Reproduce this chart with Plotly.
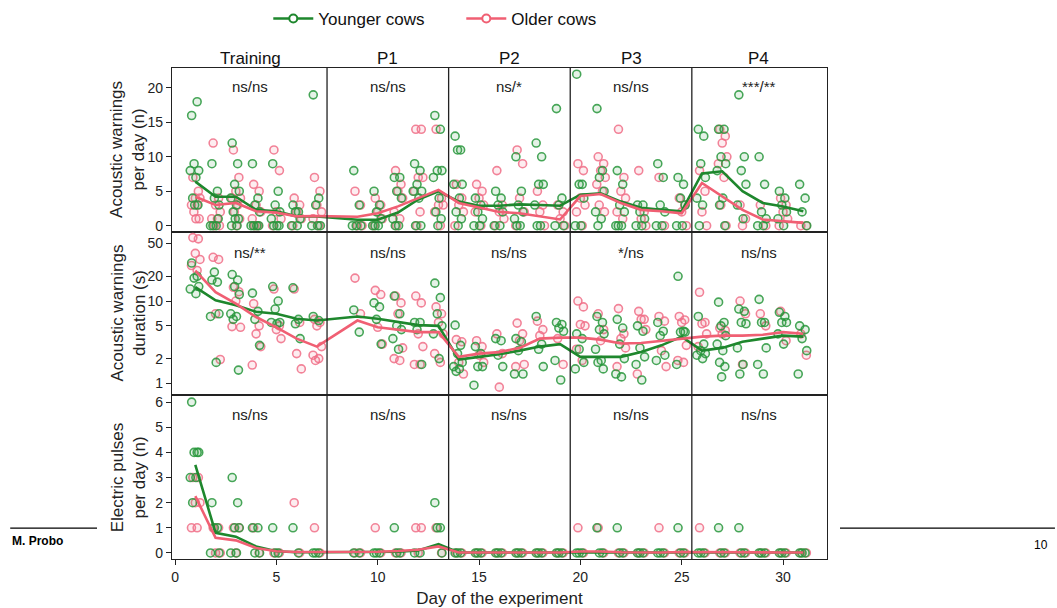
import plotly.graph_objects as go
from plotly.subplots import make_subplots

# ---------------- data ----------------
phases = ["Training", "P1", "P2", "P3", "P4"]
phase_centers = [3.7, 10.5, 16.5, 22.5, 28.8]
phase_bounds = [7.5, 13.5, 19.5, 25.5]

sig_top = ["ns/ns", "ns/ns", "ns/*", "ns/ns", "***/**"]
sig_mid = ["ns/**", "ns/ns", "ns/ns", "*/ns", "ns/ns"]
sig_bot = ["ns/ns", "ns/ns", "ns/ns", "ns/ns", "ns/ns"]

row_titles = ["Acoustic warnings<br>per day (n)", "Acoustic warnings<br>duration (s)",
              "Electric pulses<br>per day (n)"]

mean_days = [1, 2, 3, 4, 5, 6, 7, 9, 10, 11, 12, 13, 14, 15, 16, 17, 18, 19,
             20, 21, 22, 23, 24, 25, 26, 27, 28, 29, 30, 31]

# Acoustic warnings per day (n)
warn_n_young = {
    1: [16, 18, 9, 8, 8, 7, 4, 3, 3], 2: [9, 5, 4, 3, 0, 0, 0, 1],
    3: [12, 9, 6, 5, 4, 3, 2, 1, 1, 0, 0], 4: [9, 4, 3, 2, 0, 0, 0, 0],
    5: [9, 5, 3, 2, 1, 0, 0, 0], 6: [3, 2, 2, 1, 0, 0], 7: [19, 4, 3, 0, 0, 0],
    9: [8, 3, 0, 0, 0], 10: [5, 3, 2, 1, 0, 0, 0], 11: [7, 7, 5, 4, 1, 0, 0],
    12: [9, 8, 6, 5, 5, 4, 0, 0], 13: [16, 14, 8, 8, 7, 4, 2, 1, 0],
    14: [13, 11, 11, 6, 6, 4, 2, 1, 0], 15: [4, 3, 2, 1, 0, 0], 16: [5, 4, 3, 2, 0, 0],
    17: [10, 5, 3, 2, 1, 0, 0], 18: [12, 10, 6, 6, 3, 0, 0], 19: [17, 4, 3, 0, 0],
    20: [22, 6, 6, 4, 0, 0], 21: [17, 8, 7, 5, 2, 1, 0], 22: [8, 6, 3, 2, 0, 0, 0],
    23: [3, 3, 2, 1, 0, 0], 24: [9, 7, 3, 2, 0, 0], 25: [7, 6, 4, 3, 0, 0],
    26: [14, 13, 9, 7, 4, 3, 0], 27: [14, 14, 10, 9, 8, 4, 3, 0], 28: [19, 10, 8, 6, 3, 1],
    29: [10, 6, 2, 1, 0, 0], 30: [5, 4, 3, 2, 1, 0], 31: [6, 4, 2, 0],
}
warn_n_old = {
    1: [7, 5, 4, 4, 3, 3, 2, 1, 1], 2: [12, 4, 3, 2, 1, 1, 0, 0],
    3: [11, 7, 5, 4, 4, 3, 2, 1, 0], 4: [6, 5, 3, 2, 1, 0, 0], 5: [11, 8, 2, 1, 0],
    6: [4, 3, 2, 1, 0], 7: [7, 5, 3, 2, 1, 0],
    9: [5, 3, 0, 0], 10: [4, 3, 2, 1, 0], 11: [8, 6, 5, 4, 2, 1, 0],
    12: [14, 14, 7, 7, 5, 2, 0], 13: [14, 4, 3, 3, 2, 0],
    14: [6, 4, 3, 2, 0], 15: [6, 5, 4, 3, 2, 0], 16: [8, 3, 2, 1, 0],
    17: [11, 9, 4, 2, 0], 18: [5, 3, 2, 0], 19: [3, 2, 1, 0],
    20: [9, 8, 4, 3, 2, 0], 21: [10, 9, 8, 7, 6, 5, 3, 2], 22: [14, 7, 5, 4, 2, 1],
    23: [8, 2, 1, 0], 24: [7, 0], 25: [4, 3, 2, 0],
    26: [8, 5, 2, 0], 27: [14, 13, 12, 10, 9, 7, 3, 0], 28: [3, 1, 0],
    29: [3, 0], 30: [4, 3, 2, 1, 0], 31: [0, 0],
}
warn_n_mean_young = [6.4, 4.2, 4.2, 2.3, 2.1, 1.35, 1.35, 0.87, 0.87, 1.9, 3.8, 5.0,
                     3.5, 2.9, 2.9, 3.1, 3.0, 2.9, 4.5, 4.7, 3.5, 2.6, 2.3, 2.1,
                     7.6, 7.9, 5.0, 3.3, 2.8, 2.1]
warn_n_mean_old = [4.2, 3.0, 3.3, 2.1, 1.9, 1.35, 1.4, 1.3, 1.8, 2.8, 4.0, 5.2,
                   3.3, 2.6, 2.0, 1.8, 1.35, 0.9, 4.3, 4.6, 3.3, 2.3, 2.1, 1.8,
                   6.2, 4.3, 2.3, 0.9, 0.6, 0.4]

# Acoustic warnings duration (s)
warn_s_young = {
    1: [29, 20, 19, 15, 14, 12.3], 2: [18, 17, 22.5, 7, 6.5, 1.8],
    3: [21, 18, 15, 12, 7, 6.5, 6, 1.45], 4: [12.5, 7.5, 6, 2.9],
    5: [15, 10, 8, 5.5, 5.5, 5.3], 6: [14.5, 6, 5.3, 3.5], 7: [6.5, 5.8],
    9: [7.8, 4.2], 10: [9.5, 8.5, 6, 3.0], 11: [11.5, 7, 5, 4.5, 3.5, 2.6],
    12: [5.5, 5.5, 4.5, 1.7], 13: [16.5, 11, 7, 5, 4, 2.0],
    14: [5.1, 2.9, 2.3, 1.8, 1.6, 1.5, 1.4], 15: [2.8, 2.3, 1.6, 1.6, 0.95],
    16: [3.5, 3.3, 2.2, 1.6], 17: [3.5, 3.2, 2.5, 1.3, 1.3], 18: [6.5, 3, 2.6, 1.6],
    19: [5.5, 5.2, 4.7, 4.3, 1.9, 1.1],
    20: [4, 3.5, 2.6, 1.8, 1.5], 21: [6.5, 5.5, 4.5, 4, 2.6, 1.9, 1.8, 1.5],
    22: [6, 4.7, 3, 2, 1.3, 1.2], 23: [5, 4.3, 2.7, 2.1, 1.7, 1.1],
    24: [5.5, 4.3, 3.8, 2.2, 1.9], 25: [20, 4.3, 4.2, 4.2, 1.7],
    26: [6.5, 3, 2.5, 2.3, 2.2, 2.0], 27: [9.7, 5.5, 5, 3.8, 3, 2.5, 1.8, 1.6, 1.2],
    28: [8, 7.5, 5.5, 5.3, 2.7, 1.7, 1.3], 29: [10.5, 5.5, 5.5, 2.7, 1.7, 1.3],
    30: [7.3, 6.5, 5.5, 5.5, 4, 3], 31: [5, 4.5, 3.5, 2.5, 1.3],
}
warn_s_old = {
    1: [59, 57, 38, 32, 27, 23.5], 2: [34, 32, 7, 1.95], 3: [14.7, 13, 10, 4.8, 4.9],
    4: [9.3, 5, 4, 2.8, 1.67], 5: [14, 5, 4.5, 3.5], 6: [14, 5.5, 2.3, 1.5],
    7: [6, 5.5, 5, 2.8, 2.2, 2.0, 1.9],
    9: [19, 7], 10: [13.5, 12, 4.8, 3.0], 11: [11.5, 9.5, 7, 2.7, 2.0, 1.9],
    12: [11.5, 9.5, 4, 2.8, 1.7, 1.7], 13: [8.5, 7, 5.5, 4, 2.3, 1.8],
    14: [3.4, 3.2, 1.8, 1.3], 15: [3.3, 2.8, 2.2, 1.8], 16: [4.0, 2.3, 0.9],
    17: [5.4, 4, 3.3, 1.7, 1.6], 18: [5.7, 4.5, 3.8], 19: [3.5, 1.7],
    20: [10, 8.5, 5.2, 5.0, 2.6, 1.9], 21: [7, 4.5, 3.3], 22: [8.1, 4, 3.5, 2.7, 1.6],
    23: [7.5, 6, 6, 4.5, 1.3], 24: [6.5, 5.7, 2.5, 1.6], 25: [6.5, 5.9, 5.5, 2.9, 1.9, 1.8],
    26: [12.8, 5.5, 5.3, 4, 2.8], 27: [4.7, 4.4, 4], 28: [10, 7, 1.7],
    29: [7, 5], 30: [7.5, 3.3], 31: [4, 2.2],
}
warn_s_mean_young = [14.8, 10.2, 8.9, 7.4, 7.0, 6.1, 5.8, 6.5, 6.1, 5.6, 5.1, 5.0,
                     1.95, 2.1, 2.26, 2.5, 2.8, 3.0, 2.1, 2.1, 2.1, 2.4, 2.9, 3.7,
                     2.5, 2.7, 3.2, 3.5, 3.8, 3.7]
warn_s_mean_old = [23.5, 12.8, 9.3, 6.4, 4.8, 3.5, 2.8, 5.8, 4.8, 4.5, 4.2, 4.2,
                   2.1, 2.3, 2.4, 2.7, 3.5, 3.6, 3.6, 3.4, 3.05, 3.1, 3.3, 3.5,
                   3.7, 3.8, 3.8, 3.9, 4.2, 4.0]

# Electric pulses per day (n)
pulses_young = {
    1: [6, 4, 4, 4, 3, 3, 2], 2: [2, 1, 1, 0, 0], 3: [3, 2, 1, 1, 0, 0], 4: [1, 1, 0, 0],
    5: [1, 0, 0], 6: [1, 0], 7: [0, 0, 0],
    9: [0, 0], 10: [0, 0, 0], 11: [1, 0, 0], 12: [0, 0], 13: [2, 1, 1, 0],
    14: [0, 0, 0], 15: [0, 0, 0], 16: [0, 0, 0], 17: [0, 0, 0], 18: [0, 0, 0], 19: [0, 0, 0],
    20: [0, 0, 0], 21: [1, 0, 0], 22: [1, 0, 0], 23: [0, 0, 0], 24: [0, 0, 0], 25: [1, 0, 0],
    26: [0, 0, 0], 27: [1, 0, 0], 28: [1, 0, 0], 29: [0, 0, 0], 30: [0, 0, 0], 31: [0, 0, 0],
}
pulses_old = {
    1: [3, 3, 2, 2, 1, 1], 2: [1, 1, 0, 0], 3: [1, 1, 0], 4: [1, 0], 5: [0, 0],
    6: [2, 0], 7: [1, 0],
    9: [0, 0], 10: [1, 0], 11: [0, 0], 12: [1, 1, 0], 13: [1, 0],
    14: [0, 0], 15: [0, 0], 16: [0, 0], 17: [0, 0], 18: [0, 0], 19: [0, 0],
    20: [1, 0], 21: [1, 0], 22: [0, 0], 23: [0, 0], 24: [1, 0], 25: [0, 0],
    26: [1, 0], 27: [0, 0], 28: [0, 0], 29: [0, 0], 30: [0, 0], 31: [0, 0],
}
pulses_mean_young = [3.5, 0.8, 0.65, 0.26, 0.07, 0.03, 0.03, 0.03, 0.03, 0.05, 0.1, 0.35,
                     0.02, 0.02, 0.02, 0.02, 0.02, 0.02, 0.03, 0.05, 0.03, 0.02, 0.02, 0.03,
                     0.03, 0.03, 0.03, 0.02, 0.02, 0.02]
pulses_mean_old = [2.26, 0.6, 0.5, 0.2, 0.07, 0.04, 0.04, 0.04, 0.05, 0.08, 0.13, 0.26,
                   0.02, 0.02, 0.02, 0.02, 0.02, 0.02, 0.06, 0.06, 0.03, 0.02, 0.02, 0.04,
                   0.03, 0.02, 0.02, 0.02, 0.02, 0.02]

# ---------------- style ----------------
GREEN_M = "rgba(40,150,60,0.85)"
GREEN_F = "rgba(40,150,60,0.12)"
GREEN_L = "rgb(30,135,45)"
PINK_M = "rgba(240,110,135,0.85)"
PINK_F = "rgba(240,110,135,0.12)"
PINK_L = "rgb(240,95,115)"
JIT = [-0.15, 0.12, -0.03, 0.2, -0.22, 0.06, -0.1, 0.16, 0.0, -0.18, 0.09]
FONT = "Liberation Sans, Arial, sans-serif"


def flatten(d, shift):
    xs, ys = [], []
    for day, vals in d.items():
        for i, v in enumerate(vals):
            xs.append(day + JIT[i % len(JIT)] + shift)
            ys.append(v)
    return xs, ys


fig = make_subplots(rows=3, cols=1, shared_xaxes=True, vertical_spacing=0)

panels = [
    (1, warn_n_young, warn_n_old, warn_n_mean_young, warn_n_mean_old),
    (2, warn_s_young, warn_s_old, warn_s_mean_young, warn_s_mean_old),
    (3, pulses_young, pulses_old, pulses_mean_young, pulses_mean_old),
]
for row, dy, do, my, mo in panels:
    for d, mc, fc, sh in ((do, PINK_M, PINK_F, 0.03), (dy, GREEN_M, GREEN_F, -0.03)):
        xs, ys = flatten(d, sh)
        fig.add_trace(go.Scatter(x=xs, y=ys, mode="markers", showlegend=False,
                                 marker=dict(size=8, color=fc, line=dict(color=mc, width=1.6))),
                      row=row, col=1)
    fig.add_trace(go.Scatter(x=mean_days, y=my, mode="lines", showlegend=False,
                             line=dict(color=GREEN_L, width=2.6)), row=row, col=1)
    fig.add_trace(go.Scatter(x=mean_days, y=mo, mode="lines", showlegend=False,
                             line=dict(color=PINK_L, width=2.6)), row=row, col=1)

# legend entries
fig.add_trace(go.Scatter(x=[None], y=[None], mode="lines+markers", name="Younger cows",
                         line=dict(color=GREEN_L, width=2.6),
                         marker=dict(size=8, color="white", line=dict(color=GREEN_L, width=2))))
fig.add_trace(go.Scatter(x=[None], y=[None], mode="lines+markers", name="Older cows",
                         line=dict(color=PINK_L, width=2.6),
                         marker=dict(size=8, color="white", line=dict(color=PINK_L, width=2))))

axis_common = dict(showline=True, linecolor="#222", linewidth=1.2, mirror=True,
                   showgrid=False, zeroline=False, ticks="outside", ticklen=5,
                   tickcolor="#222", tickfont=dict(size=14, color="#222", family=FONT))
for r in (1, 2, 3):
    fig.update_xaxes(range=[-0.15, 32.17], row=r, col=1, **axis_common)
fig.update_xaxes(ticks="", row=1, col=1)
fig.update_xaxes(ticks="", row=2, col=1)
fig.update_xaxes(tickvals=[0, 5, 10, 15, 20, 25, 30], row=3, col=1,
                 title=dict(text="Day of the experiment", font=dict(size=17, color="#222", family=FONT),
                            standoff=8))

fig.update_yaxes(range=[-0.87, 22.9], tickvals=[0, 5, 10, 15, 20], row=1, col=1, **axis_common)
fig.update_yaxes(type="log", range=[-0.145, 1.843], tickvals=[1, 2, 5, 10, 20, 50],
                 ticktext=["1", "2", "5", "10", "20", "50"], row=2, col=1, **axis_common)
fig.update_yaxes(range=[-0.24, 6.27], tickvals=[0, 1, 2, 3, 4, 5, 6], row=3, col=1, **axis_common)

# row (y axis) titles
for txt, yref in zip(row_titles, ["y domain", "y2 domain", "y3 domain"]):
    fig.add_annotation(x=-0.067, y=0.5, xref="paper", yref=yref, text=txt, textangle=-90,
                       showarrow=False, xanchor="center", yanchor="middle",
                       font=dict(size=17, color="#222", family=FONT))

# phase dividers
for b in phase_bounds:
    fig.add_shape(type="line", xref="x", yref="paper", x0=b, x1=b, y0=0, y1=1,
                  line=dict(color="#222", width=1.3))

# phase titles and significance labels
for name, cx, s1, s2, s3 in zip(phases, phase_centers, sig_top, sig_mid, sig_bot):
    fig.add_annotation(x=cx, y=1.0, xref="x", yref="paper", text=name, showarrow=False,
                       yanchor="bottom", yshift=-2, font=dict(size=17, color="#111", family=FONT))
    for txt, yref, yy in ((s1, "y domain", 0.95), (s2, "y2 domain", 0.935), (s3, "y3 domain", 0.945)):
        fig.add_annotation(x=cx, y=yy, xref="x", yref=yref, text=txt, showarrow=False,
                           font=dict(size=15, color="#222", family=FONT))

# slide decorations
fig.add_shape(type="line", xref="paper", yref="paper", x0=-0.247, x1=-0.1145, y0=0.063, y1=0.063,
              line=dict(color="black", width=1.2))
fig.add_shape(type="line", xref="paper", yref="paper", x0=1.0198, x1=1.348, y0=0.063, y1=0.063,
              line=dict(color="black", width=1.2))
fig.add_annotation(x=-0.247, y=0.0367, xref="paper", yref="paper", text="<b>M. Probo</b>",
                   showarrow=False, xanchor="left", yanchor="middle",
                   font=dict(size=12, color="black", family=FONT))
fig.add_annotation(x=1.34, y=0.0285, xref="paper", yref="paper", text="10",
                   showarrow=False, yanchor="middle",
                   font=dict(size=12, color="black", family=FONT))

fig.update_layout(
    width=1057, height=608,
    margin=dict(l=172, r=230, t=68, b=49, autoexpand=False),
    paper_bgcolor="white", plot_bgcolor="white",
    font=dict(family=FONT, color="#222"),
    legend=dict(orientation="h", x=0.147, y=1.10, xanchor="left", yanchor="middle",
                font=dict(size=17, color="#111", family=FONT), itemwidth=40,
                entrywidth=138, entrywidthmode="pixels",
                bgcolor="rgba(0,0,0,0)"),
)

fig.write_html("out.html", config={"displayModeBar": False},
               post_script="document.body.style.margin='0';document.body.style.overflow='hidden';")
